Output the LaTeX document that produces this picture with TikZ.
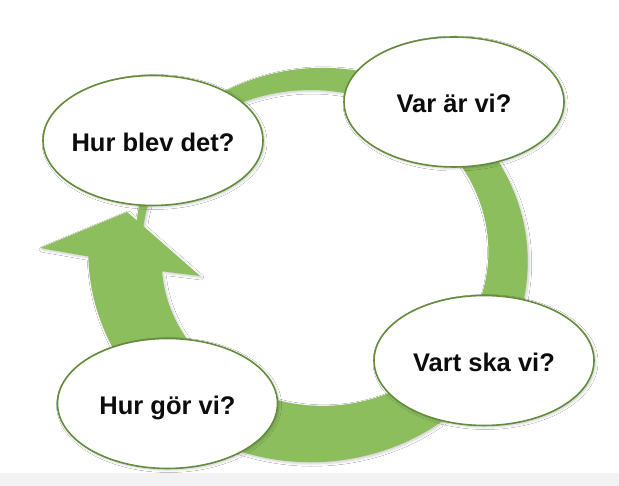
\documentclass[tikz,border=0pt]{standalone}
\usepackage{fontspec}
\setmainfont{Liberation Sans}
\usetikzlibrary{shapes.geometric,shadows.blur}
\definecolor{ringgreen}{RGB}{141,190,94}
\definecolor{edgegreen}{RGB}{100,140,60}
\definecolor{txtblack}{RGB}{12,12,12}
\definecolor{floorgray}{RGB}{242,242,242}
\begin{document}
\begin{tikzpicture}[x=1pt,y=1pt,
  declare function={wd(\t)=7+0.19*(170-\t); dd(\t)=-12*max(0,1-(170-\t)/40);},
  softshadow/.style={blur shadow={shadow xshift=1.5pt, shadow yshift=-1.5pt, shadow opacity=20, shadow blur steps=6, shadow blur radius=2.5pt}},
  bubble/.style={ellipse, draw=edgegreen, line width=1.6pt, fill=white,
    minimum width=220pt, minimum height=130pt, inner sep=0pt, softshadow},
  bubbletext/.style={font=\bfseries\fontsize{25.5}{30}\selectfont, text=txtblack,
    text height=22pt, text depth=0pt, inner sep=0pt, anchor=center}
]
\useasboundingbox (0,0) rectangle (619,486);
\fill[white] (0,0) rectangle (619,486);
\fill[floorgray] (0,0) rectangle (619,13);

% circular arrow
\fill[ringgreen, softshadow]
  plot[domain=170:-180, samples=160]
    ({316.5+(191.5+dd(\x)+wd(\x)/2)*cos(\x)}, {229.5+(177.5+dd(\x)+wd(\x)/2)*sin(\x)})
  -- (40,238) -- (127,274) -- (200,210)
  -- plot[domain=-174:170, samples=160]
    ({316.5+(191.5+dd(\x)-wd(\x)/2)*cos(\x)}, {229.5+(177.5+dd(\x)-wd(\x)/2)*sin(\x)})
  -- cycle;

% bubbles
\node[bubble] (hb) at (153,345.5) {};
\node[bubble] (va) at (454,384) {};
\node[bubble] (vs) at (484,125.5) {};
\node[bubble] (hg) at (167.5,82.5) {};

\node[bubbletext] (hbt) at (hb.center) {Hur blev det?};
\node[bubbletext] (vat) at (va.center) {Var är vi?};
\node[bubbletext] (vst) at (vs.center) {Vart ska vi?};
\node[bubbletext] (hgt) at (hg.center) {Hur gör vi?};
\end{tikzpicture}
\end{document}
